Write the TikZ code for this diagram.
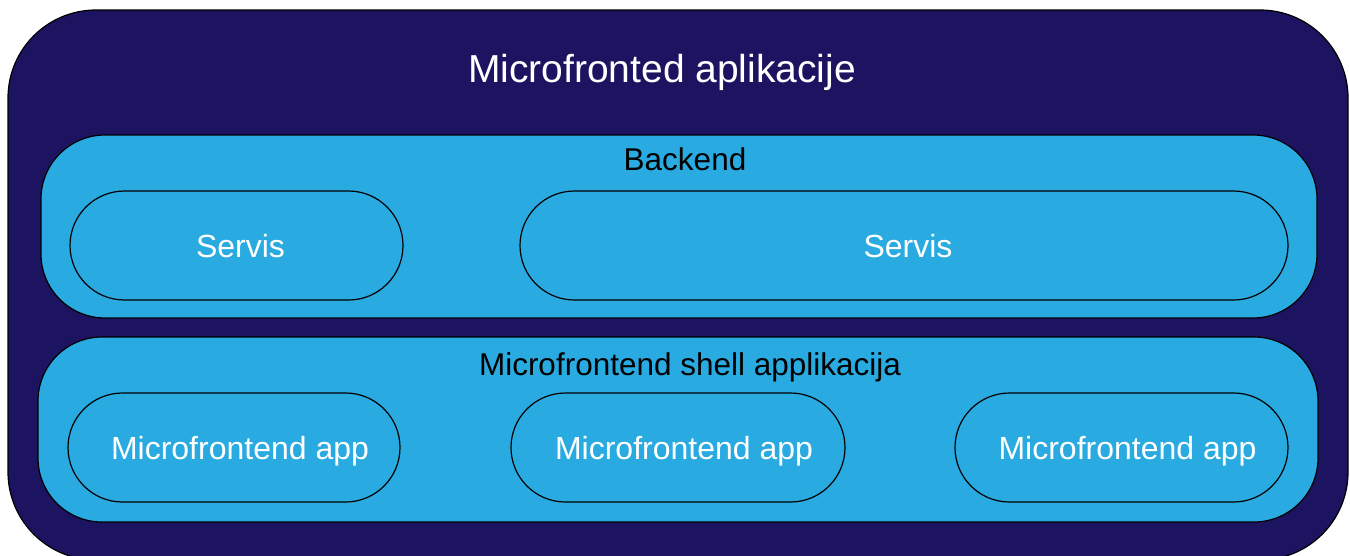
\documentclass[tikz,border=0pt]{standalone}
\usepackage{fontspec}
\setmainfont{Liberation Sans}
\usetikzlibrary{shapes.misc}
\definecolor{navy}{RGB}{28,20,97}
\definecolor{sky}{RGB}{41,171,226}
\tikzset{
  frame/.style={draw=black, line width=1.2pt, rectangle, inner sep=0pt},
  outerbox/.style={frame, fill=navy, rounded corners=88pt},
  layerbox/.style={frame, fill=sky, rounded corners=64pt},
  pill/.style={draw=black, line width=1.2pt, fill=sky, rounded rectangle, inner sep=0pt,
    minimum height=109pt},
  pilltext/.style={inner sep=0pt, text=white, font=\fontsize{32}{36}\selectfont,
    text height=23pt, text depth=0pt},
  label/.style={anchor=base, inner sep=0pt, font=\fontsize{31.5}{36}\selectfont}
}
\begin{document}
\begin{tikzpicture}[x=1pt,y=-1pt]
\useasboundingbox (0,0) rectangle (1350,555);
\clip (0,0) rectangle (1350,555);
\node[outerbox, minimum width=1340pt, minimum height=550pt] (outer) at (678,285) {};
\node[layerbox, minimum width=1276pt, minimum height=183pt] (backend) at (679,226.5) {};
\node[layerbox, minimum width=1280pt, minimum height=185pt] (shell) at (678,429.5) {};
\node[label, text=white, font=\fontsize{39}{43}\selectfont] (title) at (662,82) {Microfronted aplikacije};
\node[label] (backendlbl) at (685,170) {Backend};
\node[label] (shelllbl) at (690,375) {Microfrontend shell applikacija};
\node[pill, minimum width=333pt] (s1) at (236.5,245.5) {};
\node[pill, minimum width=768pt] (s2) at (904,245.5) {};
\node[pill, minimum width=332pt] (m1) at (234,447.5) {};
\node[pill, minimum width=334pt] (m2) at (678,447.5) {};
\node[pill, minimum width=333pt] (m3) at (1121.5,447.5) {};
\node[pilltext] (s1t) at ([xshift=4pt]s1.center) {Servis};
\node[pilltext] (s2t) at ([xshift=4pt]s2.center) {Servis};
\node[pilltext] (m1t) at ([xshift=6pt]m1.center) {Microfrontend app};
\node[pilltext] (m2t) at ([xshift=6pt]m2.center) {Microfrontend app};
\node[pilltext] (m3t) at ([xshift=6pt]m3.center) {Microfrontend app};
\end{tikzpicture}
\end{document}
